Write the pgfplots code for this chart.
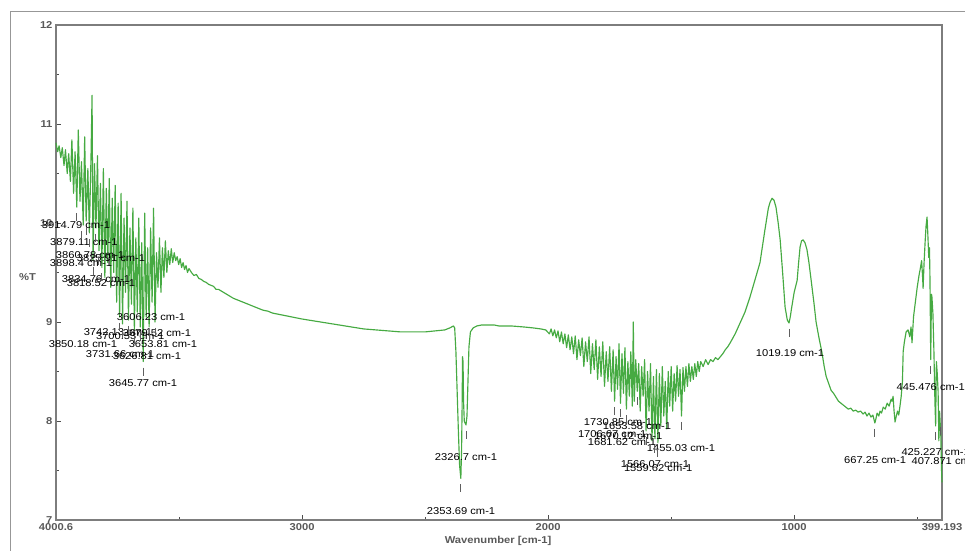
\documentclass[border=0pt]{standalone}
\usepackage{fontspec}
\setmainfont{Liberation Sans}[FakeStretch=1.12]
\usepackage{pgfplots}
\pgfplotsset{compat=1.18}
\definecolor{spec}{RGB}{70,170,66}
\definecolor{axgray}{RGB}{125,125,125}
\definecolor{lab}{RGB}{58,58,72}
\definecolor{mk}{RGB}{95,95,95}
\begin{document}
\begin{tikzpicture}
\begin{axis}[
  at={(56bp,31bp)}, anchor=south west,
  scale only axis, width=886bp, height=495bp,
  x dir=reverse, xmin=399.193, xmax=4000.6, ymin=7, ymax=12,
  clip=false,
  xtick={4000.6,3000,2000,1000,399.193},
  xticklabels={4000.6,3000,2000,1000,399.193},
  minor xtick={3500,2500,1500,500},
  ytick={7,8,9,10,11,12},
  minor ytick={7.5,8.5,9.5,10.5,11.5},
  xtick pos=bottom, ytick pos=left,
  tick align=inside,
  major tick length=5bp, minor tick length=3bp,
  axis line style={axgray, line width=1.2bp},
  every tick/.style={black!70, line width=0.9bp},
  /pgf/number format/assume math mode=true,
  tick label style={font=\fontsize{10bp}{12bp}\selectfont\bfseries, text=black!65},
  ylabel={\%T},
  ylabel style={rotate=-90, at={(axis description cs:-0.032,0.49)}, anchor=center,
    font=\fontsize{10bp}{12bp}\selectfont\bfseries, text=black!65},
  xlabel={Wavenumber [cm-1]},
  xlabel style={at={(axis description cs:0.499,-0.0424)}, anchor=center,
    font=\fontsize{10bp}{12bp}\selectfont\bfseries, text=black!65},
  every node/.append style={font=\fontsize{10bp}{12bp}\selectfont, text=lab},
]
\addplot[spec, line width=1.15bp, line join=round] coordinates {
(4000.6,10.81) (3994,10.72) (3988,10.78) (3981,10.66) (3975,10.76) (3968,10.58)
(3962,10.74) (3955,10.50) (3949,10.70) (3942,10.42) (3936,10.84) (3929,10.30)
(3923,10.72) (3916,10.16) (3910,10.94) (3903,10.22) (3897,10.62) (3890,9.98)
(3884,10.87) (3878,10.02) (3871,10.55) (3865,9.90) (3858,10.70) (3854,11.29)
(3850,9.62) (3844,10.60) (3838,9.95) (3832,10.68) (3826,9.72) (3820,10.40)
(3814,9.55) (3808,10.55) (3802,9.45) (3796,10.35) (3790,9.60) (3784,10.45)
(3778,9.35) (3772,10.25) (3766,9.50) (3760,10.38) (3754,9.20) (3748,10.20)
(3742,9.05) (3736,10.30) (3730,8.98) (3724,10.05) (3718,9.30) (3712,10.22)
(3706,9.02) (3700,9.95) (3694,9.18) (3688,10.15) (3682,8.92) (3676,9.85)
(3670,9.10) (3664,10.05) (3658,8.95) (3652,9.80) (3646,8.60) (3640,10.10)
(3634,9.05) (3628,9.75) (3622,8.95) (3616,9.95) (3610,9.20) (3604,10.15)
(3598,9.00) (3592,9.70) (3586,9.35) (3580,9.85) (3574,9.30) (3568,9.75)
(3562,9.45) (3556,9.82) (3550,9.50) (3544,9.72) (3538,9.58) (3532,9.74)
(3526,9.60) (3520,9.70) (3514,9.62) (3508,9.66) (3502,9.58) (3496,9.64)
(3490,9.55) (3484,9.60) (3478,9.53) (3472,9.57) (3466,9.50) (3460,9.54)
(3450,9.50) (3440,9.47) (3430,9.48) (3420,9.44) (3410,9.43) (3400,9.41)
(3390,9.40) (3380,9.38) (3370,9.37) (3360,9.36) (3350,9.33) (3340,9.33)
(3320,9.30) (3300,9.27) (3280,9.24) (3260,9.22) (3240,9.20) (3220,9.18)
(3200,9.16) (3180,9.14) (3160,9.12) (3140,9.11) (3120,9.09) (3100,9.08)
(3080,9.07) (3060,9.06) (3040,9.05) (3020,9.04) (3000,9.03) (2950,9.01)
(2900,8.99) (2850,8.97) (2800,8.95) (2750,8.93) (2700,8.92) (2650,8.91)
(2600,8.90) (2550,8.90) (2500,8.90) (2460,8.91) (2420,8.92) (2400,8.94)
(2385,8.96) (2380,8.94) (2375,8.70) (2370,8.30) (2365,7.90) (2360,7.55)
(2355,7.42) (2352,7.70) (2350,8.10) (2348,8.65) (2346,8.60) (2344,8.20)
(2341,8.00) (2338,7.98) (2334,7.96) (2330,8.05) (2326,8.40) (2322,8.75)
(2316,8.90) (2305,8.94) (2290,8.96) (2270,8.97) (2250,8.97) (2220,8.97)
(2200,8.96) (2150,8.96) (2100,8.95) (2060,8.94) (2030,8.93) (2010,8.92)
(1995,8.88) (1988,8.93) (1981,8.86) (1974,8.92) (1967,8.84) (1960,8.91)
(1953,8.80) (1946,8.90) (1939,8.78) (1932,8.88) (1925,8.74) (1918,8.87)
(1911,8.72) (1904,8.85) (1897,8.68) (1890,8.86) (1883,8.62) (1876,8.82)
(1869,8.66) (1862,8.84) (1855,8.55) (1848,8.80) (1841,8.60) (1834,8.85)
(1827,8.48) (1820,8.78) (1813,8.52) (1806,8.82) (1799,8.42) (1792,8.75)
(1785,8.45) (1778,8.80) (1771,8.35) (1764,8.70) (1757,8.40) (1750,8.75)
(1743,8.30) (1736,8.72) (1730,8.20) (1724,8.65) (1718,8.32) (1712,8.78)
(1706,8.18) (1700,8.68) (1694,8.28) (1688,8.74) (1682,8.12) (1676,8.60)
(1670,8.25) (1664,8.70) (1658,8.15) (1654,9.00) (1650,8.20) (1644,8.62)
(1638,8.30) (1632,8.58) (1626,8.10) (1620,8.55) (1614,8.25) (1608,8.62)
(1602,7.90) (1596,8.50) (1590,8.10) (1584,8.58) (1578,7.80) (1572,8.45)
(1566,7.82) (1560,8.52) (1554,7.78) (1548,8.48) (1542,7.95) (1536,8.55)
(1530,8.05) (1524,8.40) (1518,7.92) (1512,8.50) (1506,8.15) (1500,8.55)
(1494,8.10) (1488,8.48) (1482,8.20) (1476,8.56) (1470,8.25) (1464,8.52)
(1458,8.05) (1452,8.54) (1446,8.30) (1440,8.55) (1434,8.35) (1428,8.58)
(1422,8.40) (1416,8.55) (1410,8.42) (1404,8.58) (1398,8.45) (1392,8.60)
(1386,8.50) (1380,8.60) (1370,8.55) (1360,8.62) (1350,8.57) (1340,8.62)
(1330,8.60) (1320,8.64) (1310,8.62) (1300,8.65) (1290,8.68) (1280,8.72)
(1270,8.75) (1260,8.79) (1240,8.88) (1220,8.99) (1200,9.10) (1180,9.25)
(1160,9.42) (1139,9.60) (1119,9.93) (1105,10.15) (1098,10.21) (1090,10.25)
(1082,10.23) (1074,10.16) (1065,10.00) (1057,9.83) (1047,9.50) (1037,9.15)
(1028,9.02) (1021,8.99) (1016,9.05) (1010,9.15) (1000,9.30) (988,9.42)
(982,9.60) (976,9.76) (970,9.82) (964,9.83) (956,9.80) (948,9.73)
(940,9.60) (931,9.42) (920,9.20) (911,9.00) (900,8.85) (887,8.69)
(878,8.55) (870,8.45) (860,8.38) (850,8.31) (840,8.28) (830,8.24)
(820,8.20) (810,8.18) (800,8.16) (790,8.14) (780,8.12) (770,8.13)
(760,8.10) (750,8.11) (740,8.09) (730,8.10) (720,8.07) (712,8.09)
(704,8.05) (696,8.08) (688,8.04) (680,8.06) (676,8.02) (672,7.98)
(668,8.02) (663,8.08) (656,8.05) (651,8.10) (645,8.08) (638,8.14)
(630,8.12) (622,8.18) (614,8.15) (606,8.22) (602,8.20) (598,8.25)
(594,8.10) (590,7.99) (585,8.05) (580,8.10) (575,8.06) (570,8.15)
(565,8.25) (560,8.40) (557,8.70) (552,8.80) (545,8.90) (537,8.92)
(530,8.85) (525,8.95) (521,8.79) (515,9.05) (509,9.17) (500,9.35)
(492,9.48) (488,9.53) (482,9.62) (478,9.45) (476,9.34) (472,9.60)
(468,9.80) (464,9.97) (460,10.06) (457,9.90) (453,9.65) (450,9.75)
(448,9.42) (445,8.62) (442,9.28) (440,9.25) (436,9.08) (432,8.70)
(428,8.20) (425,7.95) (422,8.60) (419,8.50) (415,8.30) (412,7.80)
(409,8.10) (407,8.00) (404,7.85) (401,7.50) (399.193,7.38)
};
% peak markers
\addplot[only marks, mark=|, mark size=4bp, mark options={mk, line width=1bp}] coordinates {
(3916,10.06) (3898,9.88) (3878,9.92) (3865,9.80) (3850,9.52) (3838,9.85)
(3826,9.62) (3814,9.45) (3742,8.95) (3730,8.88) (3706,8.92) (3682,8.82)
(3658,8.85) (3646,8.50) (3622,8.85) (3598,8.90)
(2355,7.32) (2334,7.86)
(1730,8.10) (1706,8.08) (1682,8.02) (1638,8.20) (1602,7.80)
(1566,7.72) (1554,7.68) (1458,7.95)
(1021,8.89) (672,7.88) (445,8.52) (425,7.85) (407,7.90)
};
% peak labels
\node at (axis cs:3919,9.98) {3914.79 cm-1};
\node at (axis cs:3887,9.81) {3879.11 cm-1};
\node at (axis cs:3862,9.68) {3860.78 cm-1};
\node at (axis cs:3777,9.65) {3825.91 cm-1};
\node at (axis cs:3899,9.60) {3898.4 cm-1};
\node at (axis cs:3838,9.43) {3834.76 cm-1};
\node at (axis cs:3818,9.39) {3818.52 cm-1};
\node at (axis cs:3614,9.05) {3606.23 cm-1};
\node at (axis cs:3749,8.90) {3742.13 cm-1};
\node at (axis cs:3699,8.86) {3700.53 cm-1};
\node at (axis cs:3590,8.89) {3679.52 cm-1};
\node at (axis cs:3891,8.78) {3850.18 cm-1};
\node at (axis cs:3566,8.78) {3653.81 cm-1};
\node at (axis cs:3740,8.68) {3731.66 cm-1};
\node at (axis cs:3631,8.66) {3626.81 cm-1};
\node at (axis cs:3647,8.38) {3645.77 cm-1};
\node at (axis cs:2334,7.64) {2326.7 cm-1};
\node at (axis cs:2354,7.09) {2353.69 cm-1};
\node at (axis cs:1716,7.99) {1730.85 cm-1};
\node at (axis cs:1639,7.95) {1653.58 cm-1};
\node at (axis cs:1740,7.87) {1706.67 cm-1};
\node at (axis cs:1675,7.85) {1670.12 cm-1};
\node at (axis cs:1700,7.79) {1681.62 cm-1};
\node at (axis cs:1460,7.73) {1455.03 cm-1};
\node at (axis cs:1566,7.56) {1566.07 cm-1};
\node at (axis cs:1553,7.52) {1559.62 cm-1};
\node at (axis cs:1017,8.69) {1019.19 cm-1};
\node at (axis cs:671,7.61) {667.25 cm-1};
\node[anchor=west] at (axis cs:598,8.34) {445.476 cm-1};
\node[anchor=west] at (axis cs:578,7.69) {425.227 cm-1};
\node[anchor=west] at (axis cs:537,7.60) {407.871 cm-1};
\end{axis}
\draw[axgray!80, line width=1bp] (10bp,-5bp) -- (10bp,539bp) -- (975bp,539bp);
\pgfresetboundingbox
\path[use as bounding box] (0,0) rectangle (965bp,551bp);
\end{tikzpicture}
\end{document}
